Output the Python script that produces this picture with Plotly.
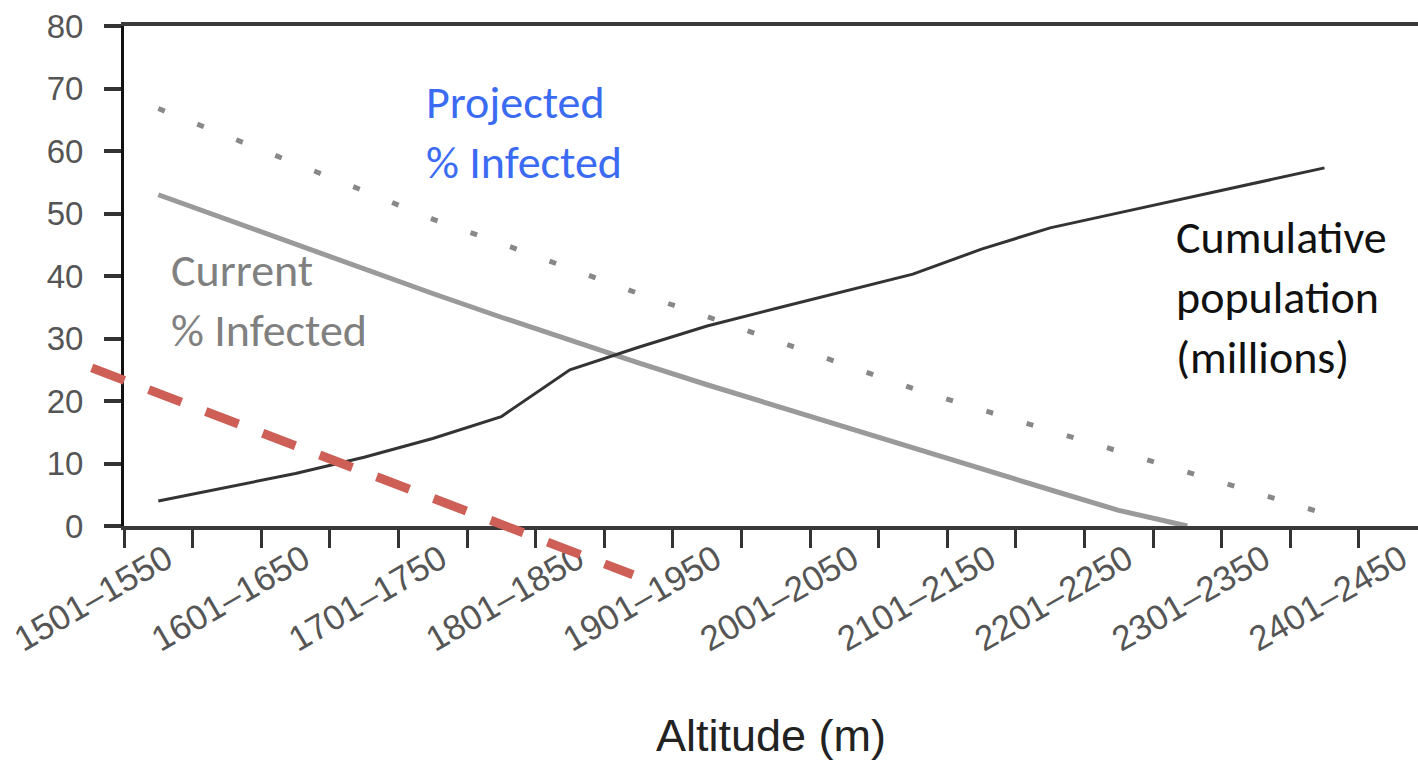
import plotly.graph_objects as go

# ---------------- data ----------------
CATEGORIES = [
    "1501–1550", "1551–1600", "1601–1650", "1651–1700", "1701–1750",
    "1751–1800", "1801–1850", "1851–1900", "1901–1950", "1951–2000",
    "2001–2050", "2051–2100", "2101–2150", "2151–2200", "2201–2250",
    "2251–2300", "2301–2350", "2351–2400", "2401–2450",
]
SHOWN_LABELS = [
    "1501–1550", "1601–1650", "1701–1750", "1801–1850", "1901–1950",
    "2001–2050", "2101–2150", "2201–2250", "2301–2350", "2401–2450",
]
Y_TICKS = [0, 10, 20, 30, 40, 50, 60, 70, 80]

CUMULATIVE_POP = [4.0, 6.2, 8.4, 11.0, 14.0, 17.5, 25.0, 28.6, 32.0, 34.8,
                  37.5, 40.3, 44.3, 47.7, 50.1, 52.5, 55.0, 57.3]
CURRENT_INF = [53.0, 49.0, 45.0, 41.1, 37.2, 33.4, 29.7, 26.1, 22.6, 19.2,
               15.8, 12.5, 9.2, 5.8, 2.5, 0.0]
PROJECTED_INF = [66.8, 62.3, 58.0, 53.6, 49.1, 45.2, 41.2, 37.2, 33.5, 29.7,
                 25.9, 22.0, 18.6, 15.3, 11.9, 8.6, 5.3, 2.0]

# hand-drawn red dashed overlay (category index, value)
RED_X = [-0.97, 6.92]
RED_Y = [25.3, -7.8]

# ---------------- layout geometry ----------------
W, H = 1418, 761
PLOT_L, PLOT_T, PLOT_B = 124, 26, 526
CAT_PX = 68.6
x_dom = [PLOT_L / W, 1.0]
y_dom = [(H - PLOT_B) / H, (H - PLOT_T) / H]
X_RANGE = [-0.5, -0.5 + (W - PLOT_L) / CAT_PX]
Y_RANGE = [0, 80]

# full-paper overlay axes matching the main scale
xspan = (X_RANGE[1] - X_RANGE[0]) / (x_dom[1] - x_dom[0])
X2_RANGE = [X_RANGE[0] - x_dom[0] * xspan, X_RANGE[1] + (1 - x_dom[1]) * xspan]
yspan = (Y_RANGE[1] - Y_RANGE[0]) / (y_dom[1] - y_dom[0])
Y2_RANGE = [Y_RANGE[0] - y_dom[0] * yspan, Y_RANGE[1] + (1 - y_dom[1]) * yspan]

FONT_FAMILY = "Liberation Sans, Arial, sans-serif"
ANN_FAMILY = "Carlito, Lato, sans-serif"
ANN_SIZE = 46

fig = go.Figure()

fig.add_trace(go.Scatter(
    x=CATEGORIES[:len(CURRENT_INF)], y=CURRENT_INF, mode="lines",
    line=dict(color="#9a9a9a", width=5), hoverinfo="skip"))
fig.add_trace(go.Scatter(
    x=CATEGORIES[:len(PROJECTED_INF)], y=PROJECTED_INF, mode="lines",
    line=dict(color="#888888", width=5, dash="7px,35px"), hoverinfo="skip"))
fig.add_trace(go.Scatter(
    x=CATEGORIES[:len(CUMULATIVE_POP)], y=CUMULATIVE_POP, mode="lines",
    line=dict(color="#333333", width=3), hoverinfo="skip"))
fig.add_trace(go.Scatter(
    x=RED_X, y=RED_Y, xaxis="x2", yaxis="y2", mode="lines",
    line=dict(color="#CD5F57", width=9, dash="35px,26px"), hoverinfo="skip"))

ticktext = [c if c in SHOWN_LABELS else "" for c in CATEGORIES]

fig.update_layout(
    width=W, height=H,
    margin=dict(l=0, r=0, t=0, b=0),
    paper_bgcolor="white", plot_bgcolor="rgba(0,0,0,0)",
    showlegend=False,
    xaxis=dict(
        type="category", domain=x_dom, range=X_RANGE, anchor="y",
        categoryorder="array", categoryarray=CATEGORIES,
        tickmode="array", tickvals=CATEGORIES, ticktext=ticktext,
        tickson="boundaries", ticks="outside", ticklen=18, tickwidth=3,
        tickcolor="#333333", tickangle=-30,
        tickfont=dict(family=FONT_FAMILY, size=35, color="#555555"),
        ticklabelstandoff=-5, ticklabelshift=8,
        showline=True, linewidth=4, linecolor="#3a3a3a", mirror=True,
        showgrid=False, zeroline=False, automargin=False,
        title=dict(text="Altitude (m)", standoff=65,
                   font=dict(family=FONT_FAMILY, size=45, color="#222222")),
    ),
    yaxis=dict(
        domain=y_dom, range=Y_RANGE, anchor="x",
        tickmode="array", tickvals=Y_TICKS,
        ticks="outside", ticklen=17, tickwidth=4, tickcolor="#333333",
        ticklabelstandoff=14,
        tickfont=dict(family=FONT_FAMILY, size=33, color="#555555"),
        showline=True, linewidth=3, linecolor="#111111",
        showgrid=False, zeroline=False, automargin=False,
    ),
    xaxis2=dict(domain=[0, 1], range=X2_RANGE, anchor="y2", visible=False,
                fixedrange=True),
    yaxis2=dict(domain=[0, 1], range=Y2_RANGE, anchor="x2", visible=False,
                fixedrange=True),
    annotations=[
        dict(text="Projected<br>% Infected", x=3.88, y=63.0, xref="x", yref="y",
             xanchor="left", yanchor="middle", align="left", showarrow=False,
             font=dict(family=ANN_FAMILY, size=ANN_SIZE, color="#3A6BF2")),
        dict(text="Current<br>% Infected", x=0.15, y=36.2, xref="x", yref="y",
             xanchor="left", yanchor="middle", align="left", showarrow=False,
             font=dict(family=ANN_FAMILY, size=ANN_SIZE, color="#808080")),
        dict(text="Cumulative<br>population<br>(millions)", x=14.8, y=36.6,
             xref="x", yref="y", xanchor="left", yanchor="middle", align="left",
             showarrow=False,
             font=dict(family=ANN_FAMILY, size=ANN_SIZE, color="#111111")),
    ],
)

fig.write_html("out.html")
